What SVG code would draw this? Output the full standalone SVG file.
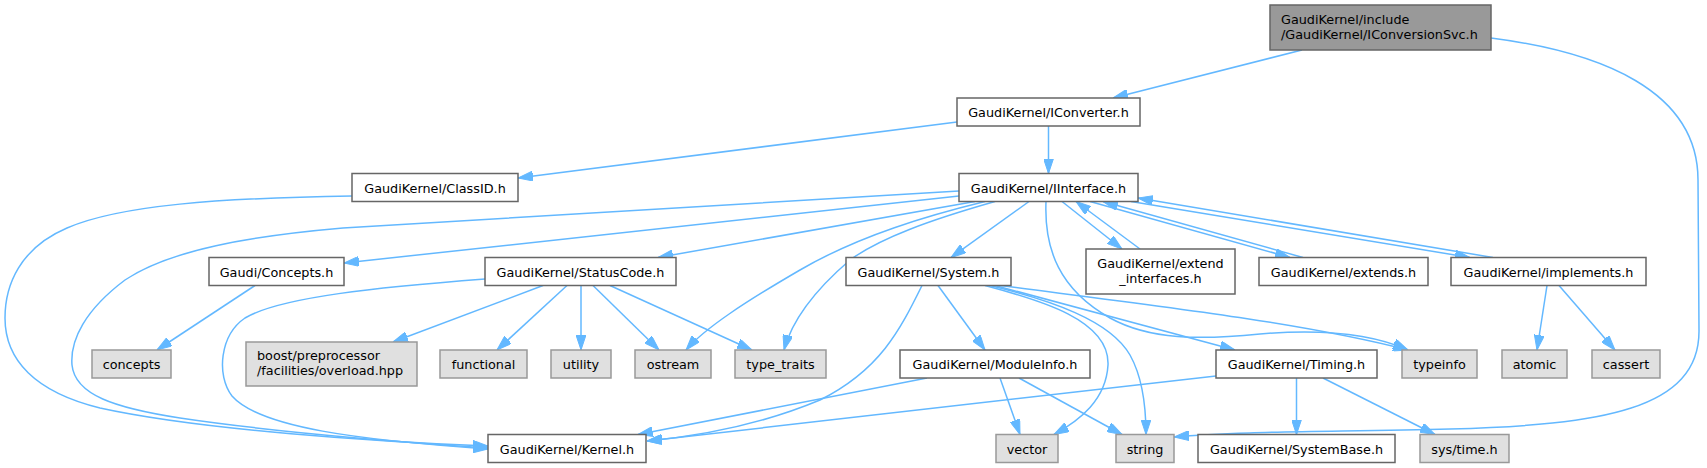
<svg xmlns="http://www.w3.org/2000/svg" width="1707" height="468" viewBox="0 0 1707 468">
<defs>
<marker id="ah" markerUnits="userSpaceOnUse" viewBox="0 0 15 10" refX="15" refY="5" markerWidth="15" markerHeight="10" orient="auto">
<path d="M0,0 L15,5 L0,10 z" fill="#63b8ff" stroke="#63b8ff" stroke-width="1"/>
</marker>
<style>
.n rect{fill:#ffffff;stroke:#666666;stroke-width:1.5}
.g rect{fill:#e0e0e0;stroke:#999999;stroke-width:1.5}
.r rect{fill:#999999;stroke:#666666;stroke-width:1.5}
text{font-family:"DejaVu Sans","Liberation Sans",sans-serif;font-size:12.8px;fill:#000000}
.c{text-anchor:middle}
#edges path{fill:none;stroke:#63b8ff;stroke-width:1.5;marker-end:url(#ah)}
</style>
</defs>
<rect width="1707" height="468" fill="#ffffff"/>
<g id="edges">
<path d="M1302,50 L1113,98"/>
<path d="M1491,38 C1600,52 1698,90 1698,180 L1699,330 C1700,410 1600,425 1450,429 C1330,432 1240,431 1174,437"/>
<path d="M957,122 L518,178"/>
<path d="M1048.5,126 L1048.5,173.5"/>
<path d="M352,196 C220,198 120,205 67,228 C20,248 5,285 5,318 C5,360 35,392 100,408 C200,430 380,442 488,446"/>
<path d="M959,191 C700,207 450,220 343,228 C250,236 170,250 125,280 C85,310 70,340 72,365 C75,395 115,408 180,418 C280,433 400,442 488,448"/>
<path d="M959,196 L344,263"/>
<path d="M975,201.5 L658,257.5"/>
<path d="M985,201.5 C930,215 860,235 800,270 C745,302 705,328 686,350"/>
<path d="M995,201.5 C930,220 880,238 850,260 C815,290 792,320 784,350"/>
<path d="M1029,201.5 L951,257.5"/>
<path d="M1046,201.5 C1044,250 1060,290 1110,318 C1150,340 1200,340 1260,334 C1320,329 1370,333 1408,350"/>
<path d="M1062,201.5 L1122,249"/>
<path d="M1140,249 L1076,201.5"/>
<path d="M1090,201.5 L1290,257.5"/>
<path d="M1303,257.5 L1103,201.5"/>
<path d="M1131,201.5 L1470,257.5"/>
<path d="M1493,257.5 L1138,198"/>
<path d="M255,285.5 L157,350"/>
<path d="M485,279 C380,287 280,297 245,318 C220,335 216,375 232,396 C260,428 360,440 488,449"/>
<path d="M543,285.5 L393,342"/>
<path d="M567,285.5 L497,350"/>
<path d="M581,285.5 L581,350"/>
<path d="M593,285.5 L659,350"/>
<path d="M610,285.5 L752,350"/>
<path d="M922,285.5 C900,330 880,370 820,400 C760,425 700,436 647,441"/>
<path d="M938,285.5 L985,350"/>
<path d="M985,285.5 C1040,300 1110,320 1108,365 C1106,400 1080,420 1054,434.5"/>
<path d="M990,285.5 C1050,300 1110,320 1130,355 C1144,380 1146,410 1146,434.5"/>
<path d="M995,285.5 L1235,350"/>
<path d="M1000,285.5 C1150,305 1300,322 1408,350"/>
<path d="M927,378 L638,434.5"/>
<path d="M1000,378 L1020,434.5"/>
<path d="M1019,378 L1122,434.5"/>
<path d="M1216,376 L647,441"/>
<path d="M1296.5,378 L1296.5,434.5"/>
<path d="M1323,378 L1435,434.5"/>
<path d="M1547,285.5 L1537,350"/>
<path d="M1559,285.5 L1615,350"/>
</g>
<g id="root" class="r"><rect x="1270" y="5" width="221" height="45"/><text x="1281" y="23.5">GaudiKernel/include</text><text x="1281" y="38.5">/GaudiKernel/IConversionSvc.h</text></g>
<g id="iconverter" class="n"><rect x="957" y="98" width="183" height="28"/><text class="c" x="1048.5" y="117">GaudiKernel/IConverter.h</text></g>
<g id="classid" class="n"><rect x="352" y="173.5" width="166" height="28"/><text class="c" x="435" y="192.5">GaudiKernel/ClassID.h</text></g>
<g id="iinterface" class="n"><rect x="959" y="173.5" width="179" height="28"/><text class="c" x="1048.5" y="192.5">GaudiKernel/IInterface.h</text></g>
<g id="gconcepts" class="n"><rect x="209" y="257.5" width="135" height="28"/><text class="c" x="276.5" y="276.5">Gaudi/Concepts.h</text></g>
<g id="statuscode" class="n"><rect x="485" y="257.5" width="191" height="28"/><text class="c" x="580.5" y="276.5">GaudiKernel/StatusCode.h</text></g>
<g id="system" class="n"><rect x="846" y="257.5" width="165" height="28"/><text class="c" x="928.5" y="276.5">GaudiKernel/System.h</text></g>
<g id="extendif" class="n"><rect x="1086" y="249" width="149" height="45"/><text class="c" x="1160.5" y="267.5">GaudiKernel/extend</text><text class="c" x="1160.5" y="282.5">_interfaces.h</text></g>
<g id="extends" class="n"><rect x="1259" y="257.5" width="169" height="28"/><text class="c" x="1343.5" y="276.5">GaudiKernel/extends.h</text></g>
<g id="implements" class="n"><rect x="1451" y="257.5" width="195" height="28"/><text class="c" x="1548.5" y="276.5">GaudiKernel/implements.h</text></g>
<g id="concepts" class="g"><rect x="92" y="350" width="79" height="28"/><text class="c" x="131.5" y="369">concepts</text></g>
<g id="boost" class="g"><rect x="246" y="342" width="171" height="44"/><text x="257" y="360">boost/preprocessor</text><text x="257" y="375">/facilities/overload.hpp</text></g>
<g id="functional" class="g"><rect x="440" y="350" width="87" height="28"/><text class="c" x="483.5" y="369">functional</text></g>
<g id="utility" class="g"><rect x="551" y="350" width="60" height="28"/><text class="c" x="581" y="369">utility</text></g>
<g id="ostream" class="g"><rect x="635" y="350" width="76" height="28"/><text class="c" x="673" y="369">ostream</text></g>
<g id="typetraits" class="g"><rect x="735" y="350" width="91" height="28"/><text class="c" x="780.5" y="369">type_traits</text></g>
<g id="moduleinfo" class="n"><rect x="900" y="350" width="190" height="28"/><text class="c" x="995" y="369">GaudiKernel/ModuleInfo.h</text></g>
<g id="timing" class="n"><rect x="1216" y="350" width="161" height="28"/><text class="c" x="1296.5" y="369">GaudiKernel/Timing.h</text></g>
<g id="typeinfo" class="g"><rect x="1402" y="350" width="75" height="28"/><text class="c" x="1439.5" y="369">typeinfo</text></g>
<g id="atomic" class="g"><rect x="1502" y="350" width="65" height="28"/><text class="c" x="1534.5" y="369">atomic</text></g>
<g id="cassert" class="g"><rect x="1592" y="350" width="68" height="28"/><text class="c" x="1626" y="369">cassert</text></g>
<g id="kernel" class="n"><rect x="488" y="434.5" width="158" height="28"/><text class="c" x="567" y="453.5">GaudiKernel/Kernel.h</text></g>
<g id="vector" class="g"><rect x="996" y="434.5" width="62" height="28"/><text class="c" x="1027" y="453.5">vector</text></g>
<g id="string" class="g"><rect x="1116" y="434.5" width="58" height="28"/><text class="c" x="1145" y="453.5">string</text></g>
<g id="systembase" class="n"><rect x="1198" y="434.5" width="197" height="28"/><text class="c" x="1296.5" y="453.5">GaudiKernel/SystemBase.h</text></g>
<g id="systime" class="g"><rect x="1420" y="434.5" width="89" height="28"/><text class="c" x="1464.5" y="453.5">sys/time.h</text></g>
</svg>
